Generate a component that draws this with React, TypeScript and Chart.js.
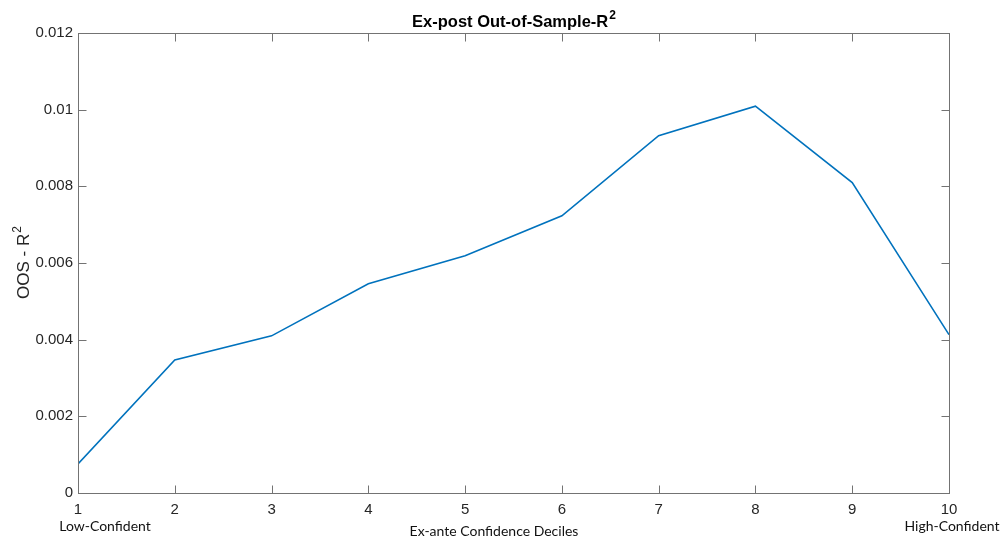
import React, { useEffect, useRef } from 'react';
import { Chart, registerables } from 'chart.js';

Chart.register(...registerables);

const deciles = [1, 2, 3, 4, 5, 6, 7, 8, 9, 10];
const oosR2 = [0.00076, 0.00347, 0.0041, 0.00546, 0.00619, 0.00723, 0.00932, 0.01009, 0.0081, 0.00413];
const yTickValues = [0, 0.002, 0.004, 0.006, 0.008, 0.01, 0.012];
const yTickLabels = ['0', '0.002', '0.004', '0.006', '0.008', '0.01', '0.012'];
const titleMain = 'Ex-post Out-of-Sample-R';
const titleSup = '2';
const yLabelMain = 'OOS - R';
const yLabelSup = '2';
const xLabel = 'Ex-ante Confidence Deciles';
const lowLabel = 'Low-Confident';
const highLabel = 'High-Confident';

const AXIS_COLOR = '#737373';
const TEXT_COLOR = '#262626';
const LINE_COLOR = '#0072BD';

const boxPlugin = {
  id: 'matlabBox',
  afterDraw(chart: any) {
    const { ctx, chartArea } = chart;
    const { left, right, top, bottom } = chartArea;
    const xs = chart.scales.x;
    const ys = chart.scales.y;
    ctx.save();
    ctx.strokeStyle = AXIS_COLOR;
    ctx.lineWidth = 1;
    const L = Math.round(left) + 0.5;
    const R = Math.round(right) + 0.5;
    const T = Math.round(top) + 0.5;
    const B = Math.round(bottom) + 0.5;
    ctx.strokeRect(L, T, R - L, B - T);
    const tl = 8;
    ctx.beginPath();
    deciles.forEach((d) => {
      const px = Math.round(xs.getPixelForValue(d)) + 0.5;
      ctx.moveTo(px, B);
      ctx.lineTo(px, B - tl);
      ctx.moveTo(px, T);
      ctx.lineTo(px, T + tl);
    });
    yTickValues.forEach((v) => {
      const py = Math.round(ys.getPixelForValue(v)) + 0.5;
      ctx.moveTo(L, py);
      ctx.lineTo(L + tl, py);
      ctx.moveTo(R, py);
      ctx.lineTo(R - tl, py);
    });
    ctx.stroke();

    // Title with superscript
    const cx = (left + right) / 2;
    ctx.fillStyle = '#000000';
    ctx.textBaseline = 'alphabetic';
    ctx.textAlign = 'left';
    const mainFont = 'bold 16.5px "Liberation Sans", Arial, sans-serif';
    const supFont = 'bold 12px "Liberation Sans", Arial, sans-serif';
    ctx.font = mainFont;
    const w1 = ctx.measureText(titleMain).width;
    ctx.font = supFont;
    const w2 = ctx.measureText(titleSup).width;
    const sx = cx - (w1 + w2) / 2;
    ctx.font = mainFont;
    ctx.fillText(titleMain, sx, 27);
    ctx.font = supFont;
    ctx.fillText(titleSup, sx + w1 + 1, 19);

    // Y axis label, rotated
    ctx.save();
    ctx.translate(29, (top + bottom) / 2);
    ctx.rotate(-Math.PI / 2);
    const yFont = '17px "Liberation Sans", Arial, sans-serif';
    const ySupFont = '12px "Liberation Sans", Arial, sans-serif';
    ctx.fillStyle = TEXT_COLOR;
    ctx.font = yFont;
    const yw1 = ctx.measureText(yLabelMain).width;
    ctx.font = ySupFont;
    const yw2 = ctx.measureText(yLabelSup).width;
    const ysx = -(yw1 + yw2) / 2;
    ctx.font = yFont;
    ctx.fillText(yLabelMain, ysx, 0);
    ctx.font = ySupFont;
    ctx.fillText(yLabelSup, ysx + yw1 + 1, -8);
    ctx.restore();

    // Bottom annotations
    ctx.fillStyle = '#111111';
    ctx.font = '14px Lato, "Open Sans", sans-serif';
    ctx.textAlign = 'center';
    ctx.textBaseline = 'middle';
    ctx.fillText(lowLabel, 105, 526);
    ctx.fillText(xLabel, 494, 531);
    ctx.fillText(highLabel, 952, 526);
    ctx.restore();
  },
};

export default function App() {
  const canvasRef = useRef<HTMLCanvasElement | null>(null);

  useEffect(() => {
    if (!canvasRef.current) return;
    const chart = new Chart(canvasRef.current, {
      type: 'line',
      data: {
        datasets: [
          {
            data: deciles.map((d, i) => ({ x: d, y: oosR2[i] })),
            borderColor: LINE_COLOR,
            borderWidth: 1.6,
            pointRadius: 0,
            tension: 0,
            fill: false,
          },
        ],
      },
      options: {
        animation: false,
        responsive: true,
        maintainAspectRatio: false,
        layout: { padding: { top: 33, right: 54, left: 0, bottom: 0 } },
        plugins: {
          legend: { display: false },
          title: { display: false },
          tooltip: { enabled: false },
        },
        scales: {
          x: {
            type: 'linear',
            min: 1,
            max: 10,
            grid: { display: false, drawTicks: false, tickLength: 0 },
            border: { display: false },
            ticks: {
              stepSize: 1,
              autoSkip: false,
              maxRotation: 0,
              padding: 8,
              color: TEXT_COLOR,
              font: { family: '"Liberation Sans", Arial, sans-serif', size: 15 },
            },
            afterFit: (s: any) => {
              s.height = 45;
            },
          },
          y: {
            type: 'linear',
            min: 0,
            max: 0.012,
            grid: { display: false, drawTicks: false, tickLength: 0 },
            border: { display: false },
            ticks: {
              stepSize: 0.002,
              padding: 5,
              color: TEXT_COLOR,
              font: { family: '"Liberation Sans", Arial, sans-serif', size: 15 },
              callback: (_v: any, i: number) => yTickLabels[i],
            },
            afterFit: (s: any) => {
              s.width = 78;
            },
          },
        },
      },
      plugins: [boxPlugin],
    });
    return () => chart.destroy();
  }, []);

  return (
    <div style={{ position: 'absolute', left: 0, top: 0, width: 1003, height: 538, background: '#ffffff' }}>
      <canvas ref={canvasRef} />
    </div>
  );
}
